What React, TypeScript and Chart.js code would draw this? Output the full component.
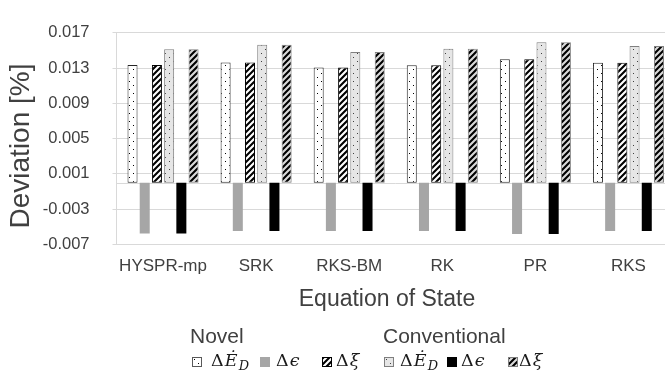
import React, { useEffect, useMemo, useRef } from 'react';
import { Chart, registerables } from 'chart.js';

Chart.register(...registerables);

const categories = ['HYSPR-mp', 'SRK', 'RKS-BM', 'RK', 'PR', 'RKS'];
const novelEd = [0.01335, 0.01363, 0.01307, 0.01332, 0.01402, 0.0136];
const novelEps = [-0.00577, -0.0055, -0.0055, -0.0055, -0.00584, -0.0055];
const novelXi = [0.01335, 0.01363, 0.01307, 0.01332, 0.01402, 0.0136];
const convEd = [0.01514, 0.01566, 0.01482, 0.01521, 0.01595, 0.0155];
const convEps = [-0.00577, -0.0055, -0.0055, -0.0055, -0.00584, -0.0055];
const convXi = [0.01514, 0.01566, 0.01482, 0.01521, 0.01595, 0.0155];
const yTicks = [-0.007, -0.003, 0.001, 0.005, 0.009, 0.013, 0.017];
const xTitle = 'Equation of State';
const yTitle = 'Deviation [%]';
const groupNames = ['Novel', 'Conventional'];

const SANS = '"Liberation Sans", Arial, sans-serif';
const TEXT = '#404040';

function makeTile(bg: string, fg: string, kind: 'dots' | 'diag'): HTMLCanvasElement {
  const c = document.createElement('canvas');
  if (kind === 'dots') {
    c.width = 8; c.height = 8;
    const g = c.getContext('2d')!;
    g.fillStyle = bg; g.fillRect(0, 0, 8, 8);
    g.fillStyle = fg;
    g.fillRect(1, 1, 1, 1);
    g.fillRect(5, 5, 1, 1);
  } else {
    c.width = 6; c.height = 6;
    const g = c.getContext('2d')!;
    g.fillStyle = bg; g.fillRect(0, 0, 6, 6);
    g.strokeStyle = fg; g.lineWidth = 2.1; g.lineCap = 'square';
    for (const k of [0, 6, 12]) {
      g.beginPath();
      g.moveTo(k + 1, -1);
      g.lineTo(k - 7, 7);
      g.stroke();
    }
  }
  return c;
}

const titlePlugin = {
  id: 'customTitles',
  beforeDatasetsDraw(chart: any) {
    const { ctx, chartArea, scales } = chart;
    const y0 = Math.round(scales.y.getPixelForValue(0)) + 0.5;
    ctx.save();
    ctx.strokeStyle = '#d9d9d9';
    ctx.lineWidth = 1;
    ctx.beginPath();
    ctx.moveTo(chartArea.left, y0);
    ctx.lineTo(chartArea.right, y0);
    ctx.stroke();
    ctx.restore();
  },
  afterDraw(chart: any) {
    const { ctx } = chart;
    ctx.save();
    ctx.fillStyle = TEXT;
    ctx.textAlign = 'center';
    ctx.textBaseline = 'middle';
    ctx.font = `23px ${SANS}`;
    ctx.fillText(xTitle, 387, 300);
    ctx.translate(21, 146);
    ctx.rotate(-Math.PI / 2);
    ctx.font = `28px ${SANS}`;
    ctx.fillText(yTitle, 0, 0);
    ctx.restore();
  },
};

export default function App() {
  const ref = useRef<HTMLCanvasElement>(null);

  const tiles = useMemo(() => ({
    novelEd: makeTile('#ffffff', '#000000', 'dots'),
    novelXi: makeTile('#ffffff', '#000000', 'diag'),
    convEd: makeTile('#e6e6e6', '#404040', 'dots'),
    convXi: makeTile('#d9d9d9', '#000000', 'diag'),
  }), []);

  const urls = useMemo(() => ({
    novelEd: tiles.novelEd.toDataURL(),
    novelXi: tiles.novelXi.toDataURL(),
    convEd: tiles.convEd.toDataURL(),
    convXi: tiles.convXi.toDataURL(),
  }), [tiles]);

  useEffect(() => {
    const canvas = ref.current!;
    const ctx = canvas.getContext('2d')!;
    const pat = (t: HTMLCanvasElement) => ctx.createPattern(t, 'repeat')!;
    Chart.defaults.font.family = SANS;
    const chart = new Chart(canvas, {
      type: 'bar',
      data: {
        labels: categories,
        datasets: [
          { label: 'Novel ΔĖD', data: novelEd, backgroundColor: pat(tiles.novelEd), borderColor: '#262626', borderWidth: 1, borderSkipped: false },
          { label: 'Novel Δϵ', data: novelEps, backgroundColor: '#a6a6a6', borderWidth: 0 },
          { label: 'Novel Δξ', data: novelXi, backgroundColor: pat(tiles.novelXi), borderColor: '#000000', borderWidth: 1, borderSkipped: false },
          { label: 'Conventional ΔĖD', data: convEd, backgroundColor: pat(tiles.convEd), borderColor: '#7f7f7f', borderWidth: 1, borderSkipped: false },
          { label: 'Conventional Δϵ', data: convEps, backgroundColor: '#000000', borderWidth: 0 },
          { label: 'Conventional Δξ', data: convXi, backgroundColor: pat(tiles.convXi), borderColor: '#7f7f7f', borderWidth: 1, borderSkipped: false },
        ] as any,
      },
      options: {
        animation: false,
        responsive: false,
        devicePixelRatio: 1,
        layout: { padding: { top: 16.7, left: 0, right: 0, bottom: 0 } },
        datasets: { bar: { categoryPercentage: 0.787, barPercentage: 0.82 } },
        plugins: { legend: { display: false }, tooltip: { enabled: false }, title: { display: false } },
        scales: {
          x: {
            grid: { display: false, drawTicks: false },
            border: { display: false },
            ticks: { color: TEXT, font: { size: 17, family: SANS }, padding: 12, maxRotation: 0, autoSkip: false },
            afterFit: (s: any) => { s.height = 130.7; },
          },
          y: {
            min: -0.007,
            max: 0.017,
            afterBuildTicks: (s: any) => { s.ticks = yTicks.map((v) => ({ value: v })); },
            grid: { color: '#d9d9d9', tickLength: 4, drawTicks: true },
            border: { display: true, color: '#d9d9d9' },
            ticks: { color: TEXT, font: { size: 16.5, family: SANS }, padding: 23, callback: (v: any) => Number(v).toFixed(3) },
            afterFit: (s: any) => { s.width = 116.5; },
          },
        },
      } as any,
      plugins: [titlePlugin],
    });
    return () => chart.destroy();
  }, [tiles]);

  const sw = (left: number, bg: string, border: string) => (
    <div style={{ position: 'absolute', left, top: 357, width: 8, height: 8, border: `1px solid ${border}`, background: bg }} />
  );
  const mathStyle: React.CSSProperties = { position: 'absolute', top: 352, fontFamily: '"DejaVu Serif", serif', fontSize: 17.5, lineHeight: '17px', letterSpacing: '1.2px', color: '#1a1a1a', whiteSpace: 'nowrap' };
  const sub: React.CSSProperties = { fontSize: '0.74em', position: 'relative', top: '0.3em', fontStyle: 'italic' };
  const ed = (left: number) => (
    <span style={{ ...mathStyle, left }}>Δ<i>Ė</i><span style={sub}>D</span></span>
  );
  const eps = (left: number) => (<span style={{ ...mathStyle, left }}>Δ<i>ϵ</i></span>);
  const xi = (left: number) => (<span style={{ ...mathStyle, left }}>Δ<i>ξ</i></span>);
  const head: React.CSSProperties = { position: 'absolute', top: 325, fontFamily: SANS, fontSize: 21, lineHeight: '21px', color: TEXT };

  return (
    <div style={{ position: 'absolute', left: 0, top: 0, width: 665, height: 375, overflow: 'hidden', background: '#fff' }}>
      <canvas ref={ref} width={675} height={375} style={{ position: 'absolute', left: 0, top: 0, width: 675, height: 375 }} />
      <div style={{ ...head, left: 190 }}>{groupNames[0]}</div>
      <div style={{ ...head, left: 383 }}>{groupNames[1]}</div>
      {sw(192, `url(${urls.novelEd})`, '#595959')}
      {ed(211)}
      {sw(260, '#a6a6a6', '#a6a6a6')}
      {eps(276)}
      {sw(322, `url(${urls.novelXi})`, '#000000')}
      {xi(336)}
      {sw(384, `url(${urls.convEd})`, '#7f7f7f')}
      {ed(400)}
      {sw(447, '#000000', '#000000')}
      {eps(461)}
      {sw(508, `url(${urls.convXi})`, '#7f7f7f')}
      {xi(519)}
    </div>
  );
}
